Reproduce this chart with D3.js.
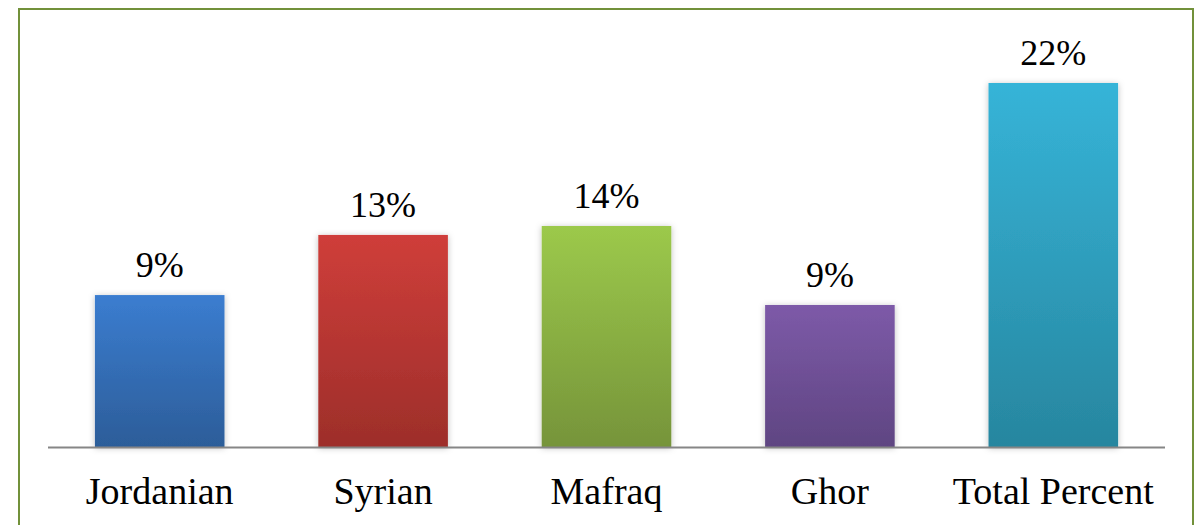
<!DOCTYPE html>
<html>
<head>
<meta charset="utf-8">
<script src="https://cdn.jsdelivr.net/npm/d3@7"></script>
<style>
  html, body { margin: 0; padding: 0; background: #fff; }
  svg { display: block; font-family: "Liberation Serif", "Times New Roman", Times, "DejaVu Serif", serif; }
</style>
</head>
<body>
<div id="chart"></div>
<script>
// chart data
const categories = ["Jordanian", "Syrian", "Mafraq", "Ghor", "Total Percent"];
const values = [9.35, 13.05, 13.6, 8.74, 22.4];
const labels = ["9%", "13%", "14%", "9%", "22%"];
const topColors = ["#3b7dd0", "#cf3e3a", "#9cc94b", "#7d5aa8", "#36b4d8"];
const bottomColors = ["#2c5d99", "#9d2e2a", "#76943a", "#5f4582", "#27869f"];

const width = 1202;
const height = 525;

const svg = d3.select("#chart").append("svg")
  .attr("width", width)
  .attr("height", height);

const defs = svg.append("defs");

// vertical gradient for every bar
categories.forEach((c, i) => {
  const g = defs.append("linearGradient")
    .attr("id", "grad" + i)
    .attr("x1", 0).attr("y1", 0).attr("x2", 0).attr("y2", 1);
  g.append("stop").attr("offset", "0%").attr("stop-color", topColors[i]);
  g.append("stop").attr("offset", "100%").attr("stop-color", bottomColors[i]);
});

// soft shadow around the bars
const shadow = defs.append("filter")
  .attr("id", "shadow")
  .attr("x", "-20%").attr("y", "-20%")
  .attr("width", "140%").attr("height", "140%");
shadow.append("feDropShadow")
  .attr("dx", 0).attr("dy", 1)
  .attr("stdDeviation", 3)
  .attr("flood-color", "#000")
  .attr("flood-opacity", 0.25);

// outer frame (bottom edge is off the page)
svg.append("rect")
  .attr("x", 19)
  .attr("y", 9)
  .attr("width", 1174)
  .attr("height", 540)
  .attr("fill", "none")
  .attr("stroke", "#72913a")
  .attr("stroke-width", 2);

const x = d3.scaleBand()
  .domain(categories)
  .range([48, 1165])
  .paddingInner(0.42)
  .paddingOuter(0.21);

const y = d3.scaleLinear()
  .domain([0, 22.4])
  .range([447, 83]);

const data = categories.map((c, i) => ({ name: c, value: values[i], label: labels[i], idx: i }));

// bars
svg.append("g")
  .selectAll("rect")
  .data(data)
  .join("rect")
  .attr("x", d => x(d.name))
  .attr("y", d => y(d.value))
  .attr("width", x.bandwidth())
  .attr("height", d => y(0) - y(d.value))
  .attr("fill", d => `url(#grad${d.idx})`)
  .attr("filter", "url(#shadow)");

// axis line
svg.append("line")
  .attr("x1", x.range()[0])
  .attr("x2", x.range()[1])
  .attr("y1", y(0) + 0.5)
  .attr("y2", y(0) + 0.5)
  .attr("stroke", "#868686")
  .attr("stroke-width", 2);

// value labels
svg.append("g")
  .selectAll("text")
  .data(data)
  .join("text")
  .attr("x", d => x(d.name) + x.bandwidth() / 2)
  .attr("y", d => y(d.value) - 18)
  .attr("text-anchor", "middle")
  .attr("font-size", 36)
  .attr("fill", "#000")
  .text(d => d.label);

// category labels
svg.append("g")
  .selectAll("text")
  .data(data)
  .join("text")
  .attr("x", d => x(d.name) + x.bandwidth() / 2)
  .attr("y", 504)
  .attr("text-anchor", "middle")
  .attr("font-size", 38)
  .attr("fill", "#000")
  .text(d => d.name);
</script>
</body>
</html>
